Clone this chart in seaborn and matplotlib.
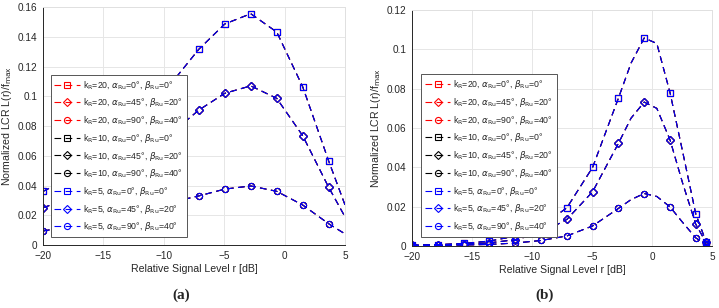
import matplotlib
matplotlib.use("Agg")
import matplotlib.pyplot as plt
import seaborn as sns
import numpy as np
from matplotlib.ticker import FuncFormatter

# relative signal level (dB) sample points, panel (a)
r_a = [-20, -17.85, -15.7, -13.55, -11.4, -9.25, -7.1, -4.95, -2.8, -0.65, 1.5, 3.65, 5]
mark_a = list(range(12))
lcr_a_sq = [0.036, 0.045, 0.056, 0.070, 0.088, 0.110, 0.1316, 0.1486, 0.1555, 0.1432, 0.1064, 0.0565, 0.027]
lcr_a_di = [0.0251, 0.031, 0.039, 0.049, 0.061, 0.076, 0.0907, 0.102, 0.107, 0.0986, 0.0735, 0.0388, 0.019]
lcr_a_ci = [0.0094, 0.0125, 0.016, 0.020, 0.0245, 0.029, 0.033, 0.0376, 0.0397, 0.0361, 0.0269, 0.0143, 0.0075]

# panel (b)
r_b = [-20, -17.85, -15.7, -13.55, -11.4, -9.25, -7.1, -4.95, -2.8, -1.75, -0.65, 0.4, 1.5, 2.55, 3.65, 4.5, 5]
mark_b = [0, 1, 2, 3, 4, 5, 6, 7, 8, 10, 12, 14, 15]
lcr_b_sq = [0.0004, 0.0007, 0.0013, 0.0025, 0.005, 0.010, 0.0194, 0.040, 0.0752, 0.093, 0.1058, 0.103, 0.078, 0.048, 0.0162, 0.0022, 0.001]
lcr_b_di = [0.0003, 0.0005, 0.0009, 0.0016, 0.0032, 0.0066, 0.0135, 0.0276, 0.0522, 0.065, 0.0732, 0.070, 0.054, 0.032, 0.011, 0.0018, 0.0008]
lcr_b_ci = [0.0002, 0.0003, 0.0005, 0.0008, 0.0015, 0.0028, 0.0051, 0.0102, 0.0191, 0.0236, 0.0267, 0.0252, 0.0199, 0.012, 0.0041, 0.0009, 0.0004]

k_values = [20, 10, 5]
k_colors = ["#ff0000", "#000000", "#0000ff"]
angles = [(0, 0), (45, 20), (90, 40)]
markers = ["s", "D", "o"]
msizes = [4.0, 4.2, 4.4]

sns.set_style("whitegrid")
plt.rcParams['font.family'] = ['Liberation Sans', 'DejaVu Sans']

fig = plt.figure(figsize=(7.19, 3.08), dpi=100)
ax_a = fig.add_axes([0.0598, 0.2045, 0.42, 0.7727])
ax_b = fig.add_axes([0.573, 0.2013, 0.4173, 0.766])

panels = [
    (ax_a, r_a, mark_a, [lcr_a_sq, lcr_a_di, lcr_a_ci], 0.16, (0.025, 0.032)),
    (ax_b, r_b, mark_b, [lcr_b_sq, lcr_b_di, lcr_b_ci], 0.12, (0.03, 0.038)),
]

dark = "#262626"
for ax, r, marks, curves, ymax, anchor in panels:
    for k, col in zip(k_values, k_colors):
        for (al, be), m, ms, y in zip(angles, markers, msizes, curves):
            lbl = (r'k$_\mathrm{R}$=%d, $\alpha_\mathrm{Ru}$=%d°, '
                   r'$\beta_\mathrm{Ru}$=%d°' % (k, al, be))
            sns.lineplot(x=r, y=y, ax=ax, color=col, marker=m, linestyle=(0, (6, 4)),
                         linewidth=0.8, markevery=marks, mfc="none", mec=col,
                         mew=0.8, ms=ms, label=lbl, sort=False, estimator=None)
    ax.set_xlim(-20, 5)
    ax.set_ylim(0, ymax)
    ax.set_xticks([-20, -15, -10, -5, 0, 5])
    ax.set_yticks(np.arange(0, ymax + 1e-9, 0.02))
    ax.yaxis.set_major_formatter(FuncFormatter(lambda v, p: "%g" % round(v, 3)))
    ax.xaxis.set_major_formatter(FuncFormatter(lambda v, p: ("%g" % v).replace("-", "\u2212")))
    ax.grid(True, color="#e6e6e6", linewidth=0.7)
    for s in ["top", "right"]:
        ax.spines[s].set_color("#e0e0e0")
        ax.spines[s].set_linewidth(0.7)
    for s in ["left", "bottom"]:
        ax.spines[s].set_color(dark)
        ax.spines[s].set_linewidth(0.7)
    ax.tick_params(axis="both", direction="in", length=3, width=0.6, color=dark,
                   labelsize=7.2, labelcolor=dark)
    ax.tick_params(axis="x", pad=4.5)
    ax.tick_params(axis="y", pad=4)
    ax.set_xlabel("Relative Signal Level r [dB]", fontsize=7.6, color=dark, labelpad=2)
    ax.set_ylabel(r"Normalized LCR L(r)/f$_\mathrm{max}$", fontsize=7.6, color=dark, labelpad=3)
    leg = ax.legend(loc="lower left", bbox_to_anchor=anchor, fontsize=6.3, frameon=True,
                    fancybox=False, framealpha=1, edgecolor="#555555", handlelength=2.9,
                    numpoints=1, labelspacing=0.54, borderpad=0.45, handletextpad=0.35,
                    borderaxespad=0)
    leg.get_frame().set_linewidth(0.7)

fig.text(0.252, 0.042, "(a)", family="Liberation Serif", fontsize=11, weight="bold",
         ha="center", va="center")
fig.text(0.758, 0.042, "(b)", family="Liberation Serif", fontsize=11, weight="bold",
         ha="center", va="center")

fig.savefig("out.png", dpi=100)
